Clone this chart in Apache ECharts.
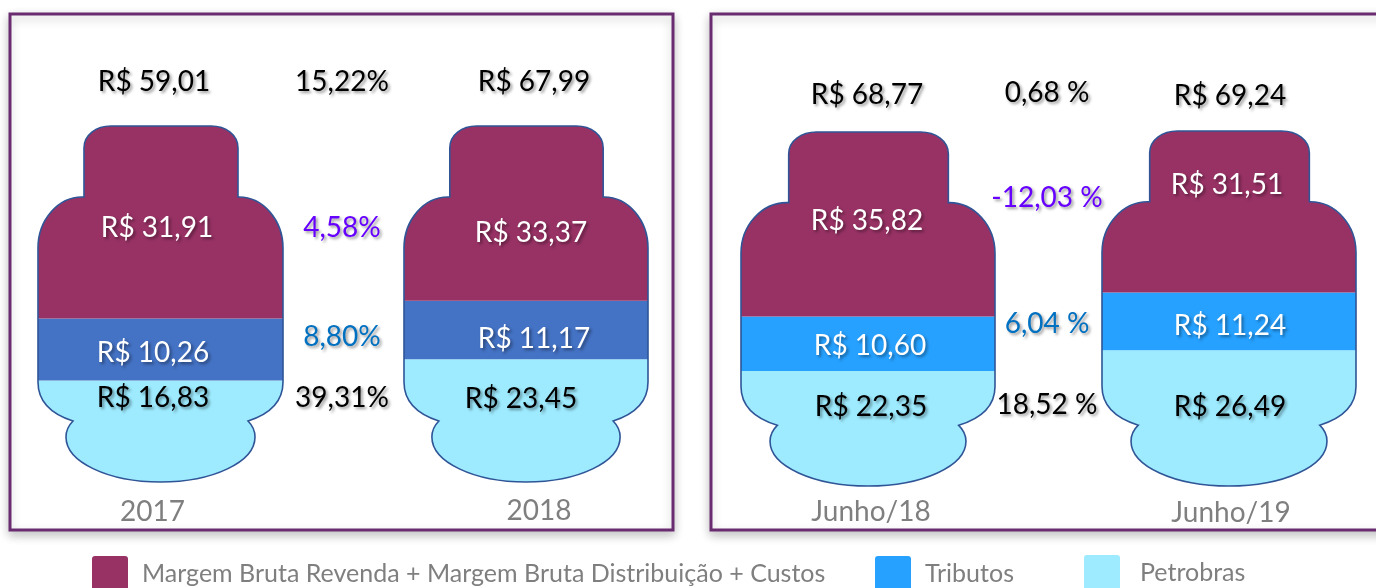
<!DOCTYPE html>
<html><head><meta charset="utf-8">
<style>html,body{margin:0;padding:0;background:#fff;overflow:hidden}#c{width:1376px;height:588px}</style>
<script src="https://cdn.jsdelivr.net/npm/echarts@6/dist/echarts.min.js"></script>
</head><body><div id="c"></div>
<script>
// ---- data ----
const periods = ['2017', '2018', 'Junho/18', 'Junho/19'];
const totals = [59.01, 67.99, 68.77, 69.24];
const margem = [31.91, 33.37, 35.82, 31.51];
const tributos = [10.26, 11.17, 10.60, 11.24];
const petrobras = [16.83, 23.45, 22.35, 26.49];
const varTotal = ['15,22%', '0,68 %'];
const varMargem = ['4,58%', '-12,03 %'];
const varTributos = ['8,80%', '6,04 %'];
const varPetrobras = ['39,31%', '18,52 %'];
const seriesNames = ['Margem Bruta Revenda + Margem Bruta Distribuição + Custos', 'Tributos', 'Petrobras'];

// ---- layout ----
const FONT = 'Lato, "Open Sans", sans-serif';
const grids = [
  {left: 38, top: 126, width: 245, height: 356},
  {left: 404, top: 126, width: 244, height: 356},
  {left: 741, top: 132, width: 254, height: 354},
  {left: 1102, top: 131, width: 254, height: 355}
];
const labelPadding = [[0, 16, 0, 0], [0, 0, 0, 26], [0, 0, 0, 6], [0, 0, 0, 4]];
const labelMargin = [16, 15, 12, 13];
const C_MARGEM = '#983265', C_BLUE1 = '#4472C4', C_BLUE2 = '#26A1FF', C_LIGHT = '#9EEBFF';
const tribColors = [C_BLUE1, C_BLUE1, C_BLUE2, C_BLUE2];

// silhouette in a 245 x 356 unit box
function silhouette(r) {
  const X = v => (r.x + v * r.width / 245).toFixed(2), Y = v => (r.y + v * r.height / 356).toFixed(2);
  const p = (...a) => { let s = ''; for (let i = 0; i < a.length; i += 2) s += X(a[i]) + ' ' + Y(a[i + 1]) + ' '; return s; };
  return 'M' + p(0, 122) +
    'C' + p(0, 94, 20, 71, 44, 71) + 'L' + p(46, 71) + 'L' + p(46, 22) +
    'C' + p(46, 9, 58, 0, 73, 0) + 'L' + p(173, 0) +
    'C' + p(188, 0, 200, 9, 200, 22) + 'L' + p(200, 71) + 'L' + p(201, 71) +
    'C' + p(225, 71, 245, 94, 245, 122) + 'L' + p(245, 256) +
    'C' + p(245, 275, 232, 288, 210, 295) +
    'C' + p(215, 300, 217, 306, 217, 311) +
    'C' + p(217, 336, 175, 356, 122.5, 356) +
    'C' + p(70, 356, 28, 336, 28, 311) +
    'C' + p(28, 306, 30, 300, 35, 295) +
    'C' + p(13, 288, 0, 275, 0, 256) + 'Z';
}

function bandItem(params, api) {
  const r = params.coordSys;
  const y0 = api.coord([api.value(0), api.value(1)])[1];
  const y1 = api.coord([api.value(0), api.value(2)])[1];
  return {
    type: 'rect',
    shape: {x: r.x, y: y1, width: r.width, height: y0 - y1},
    style: {fill: api.visual('color')},
    clipPath: {type: 'path', shape: {pathData: silhouette(r)}}
  };
}
function outlineItem(params) {
  return {
    type: 'path',
    shape: {pathData: silhouette(params.coordSys)},
    style: {fill: 'none', stroke: '#2F5597', lineWidth: 1.6}
  };
}

const series = [];
periods.forEach((p, i) => {
  const b1 = petrobras[i], b2 = b1 + tributos[i], b3 = totals[i];
  const add = (name, color, a, b) => series.push({
    type: 'custom', name, xAxisIndex: i, yAxisIndex: i, silent: true, z: 2,
    coordinateSystem: 'cartesian2d', renderItem: bandItem, clip: false, animation: false,
    itemStyle: {color}, encode: {x: 0, y: [1, 2]}, data: [[p, a, b]]
  });
  add(seriesNames[2], C_LIGHT, 0, b1);
  add(seriesNames[1], tribColors[i], b1, b2);
  add(seriesNames[0], C_MARGEM, b2, b3);
  series.push({
    type: 'custom', name: 'contorno', xAxisIndex: i, yAxisIndex: i, silent: true, z: 3,
    renderItem: outlineItem, clip: false, animation: false, encode: {x: 0, y: 1}, data: [[p, 0]]
  });
});

const money = v => 'R$ ' + v.toFixed(2).replace('.', ',');
const shadow = {textShadowColor: 'rgba(0,0,0,0.4)', textShadowBlur: 3, textShadowOffsetX: 2, textShadowOffsetY: 2};
function txt(text, x, y, fill) {
  return {type: 'text', z: 20, silent: true, style: Object.assign({
    text, x, y: y + 1, fill, font: '28px ' + FONT, align: 'center', verticalAlign: 'middle'}, shadow)};
}
const frame = (x, w) => ({type: 'rect', z: -5, silent: true,
  shape: {x, y: 14, width: w, height: 516},
  style: {fill: '#fff', stroke: '#6A2C70', lineWidth: 3, shadowColor: 'rgba(0,0,0,0.22)', shadowBlur: 10, shadowOffsetY: 4}});

const W = '#FFFFFF', K = '#000000', P = '#6600FF', B = '#0070C0';
const graphics = [
  frame(10, 663), frame(711, 680),
  txt(money(totals[0]), 154, 81, K), txt(varTotal[0], 342, 81, K), txt(money(totals[1]), 534, 81, K),
  txt(money(margem[0]), 157, 227, W), txt(varMargem[0], 342, 227, P), txt(money(margem[1]), 531, 232, W),
  txt(money(tributos[0]), 153, 352, W), txt(varTributos[0], 342, 336, B), txt(money(tributos[1]), 534, 338, W),
  txt(money(petrobras[0]), 153, 397, K), txt(varPetrobras[0], 342, 397, K), txt(money(petrobras[1]), 521, 398, K),
  txt(money(totals[2]), 867, 94, K), txt(varTotal[1], 1047, 92, K), txt(money(totals[3]), 1230, 95, K),
  txt(money(margem[2]), 867, 220, W), txt(varMargem[1], 1047, 197, P), txt(money(margem[3]), 1227, 184, W),
  txt(money(tributos[2]), 870, 345, W), txt(varTributos[1], 1047, 323, B), txt(money(tributos[3]), 1230, 325, W),
  txt(money(petrobras[2]), 871, 406, K), txt(varPetrobras[1], 1047, 404, K), txt(money(petrobras[3]), 1230, 406, K)
];

const ICON = 'path://M3 0H33Q36 0 36 3V33Q36 36 33 36H3Q0 36 0 33V3Q0 0 3 0Z';
const legendBase = {orient: 'horizontal', selectedMode: false, itemGap: 0, icon: ICON, padding: 0};
const legendText = padding => ({color: '#7F7F7F', fontFamily: FONT, fontSize: 25, padding});

const chart = echarts.init(document.getElementById('c'), null, {renderer: 'canvas', width: 1376, height: 588});
chart.setOption({
  backgroundColor: '#fff',
  animation: false,
  grid: grids,
  xAxis: periods.map((p, i) => ({
    type: 'category', gridIndex: i, data: [p],
    axisLine: {show: false}, axisTick: {show: false}, splitLine: {show: false},
    axisLabel: {color: '#7F7F7F', fontFamily: FONT, fontSize: 28, margin: labelMargin[i], padding: labelPadding[i]}
  })),
  yAxis: periods.map((p, i) => ({type: 'value', gridIndex: i, min: 0, max: totals[i], show: false})),
  legend: [
    Object.assign({}, legendBase, {left: 92, top: 556, itemWidth: 36, itemHeight: 36, textStyle: legendText([0, 0, 4, 9]),
      data: [{name: seriesNames[0], itemStyle: {color: C_MARGEM}}]}),
    Object.assign({}, legendBase, {left: 875, top: 556, itemWidth: 36, itemHeight: 36, textStyle: legendText([2, 0, 0, 9]),
      data: [{name: seriesNames[1], itemStyle: {color: C_BLUE2}}]}),
    Object.assign({}, legendBase, {left: 1084, top: 555, itemWidth: 36, itemHeight: 36, textStyle: legendText([0, 0, 4, 15]),
      data: [{name: seriesNames[2], itemStyle: {color: C_LIGHT}}]})
  ],
  graphic: {elements: graphics},
  series
});
</script></body></html>
